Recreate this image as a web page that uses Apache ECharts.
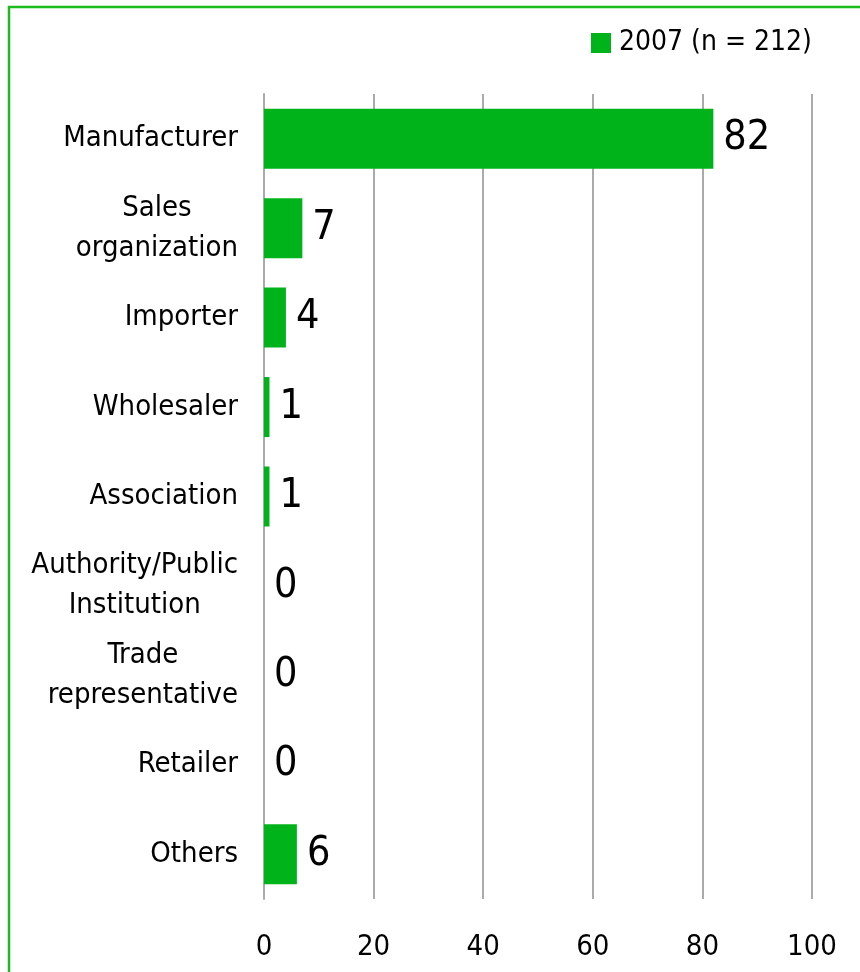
<!DOCTYPE html>
<html>
<head>
<meta charset="utf-8">
<style>
  html, body { margin: 0; padding: 0; background: #ffffff; }
  #chart { width: 860px; height: 972px; }
</style>
<script src="https://cdn.jsdelivr.net/npm/echarts@6/dist/echarts.min.js"></script>
</head>
<body>
<div id="chart"></div>
<script>
// Sender categories (top to bottom) and their shares in percent
const categories = [
  'Manufacturer',
  'Sales\norganization',
  'Importer',
  'Wholesaler',
  'Association',
  'Authority/Public\nInstitution',
  'Trade\nrepresentative',
  'Retailer',
  'Others'
];
const shares2007 = [82, 7, 4, 1, 1, 0, 0, 0, 6];
const seriesName = '2007 (n = 212)';
const axisTicks = [0, 20, 40, 60, 80, 100];

const GREEN = '#00b31a';
const GRID_GREY = '#ababab';
const COND = '"DejaVu Sans Condensed", "Liberation Sans Narrow", sans-serif';

const chart = echarts.init(document.getElementById('chart'), null, { renderer: 'canvas' });

chart.setOption({
  animation: false,
  backgroundColor: '#ffffff',
  graphic: [{
    type: 'rect',
    silent: true,
    z: -1,
    shape: { x: 9, y: 7, width: 900, height: 1000 },
    style: { fill: 'none', stroke: '#1dbb1d', lineWidth: 2.5 }
  }],
  legend: {
    left: 586,
    top: 24,
    itemWidth: 20,
    itemHeight: 20,
    icon: 'rect',
    selectedMode: false,
    data: [seriesName],
    textStyle: {
      fontFamily: COND,
      fontSize: 28,
      color: '#000000',
      padding: [0, 0, 0, 3]
    }
  },
  grid: { left: 264, right: 48, top: 94, bottom: 73, containLabel: false },
  xAxis: {
    type: 'value',
    min: axisTicks[0],
    max: axisTicks[axisTicks.length - 1],
    interval: axisTicks[1] - axisTicks[0],
    axisLine: { show: false },
    axisTick: { show: false },
    splitLine: { show: true, lineStyle: { color: GRID_GREY, width: 2 } },
    axisLabel: {
      margin: 34,
      fontFamily: COND,
      fontSize: 29,
      color: '#000000'
    }
  },
  yAxis: {
    type: 'category',
    inverse: true,
    data: categories,
    axisLine: { show: true, lineStyle: { color: GRID_GREY, width: 2 } },
    axisTick: { show: false },
    axisLabel: {
      margin: 26,
      align: 'right',
      color: '#000000',
      formatter: function (v) {
        return v.split('\n').map(function (s) { return '{c|' + s + '}'; }).join('\n');
      },
      rich: {
        c: {
          align: 'center',
          fontFamily: COND,
          fontSize: 29,
          lineHeight: 40,
          color: '#000000'
        }
      }
    }
  },
  series: [{
    name: seriesName,
    type: 'bar',
    data: shares2007,
    barWidth: 60,
    itemStyle: { color: GREEN },
    label: {
      show: true,
      position: 'right',
      distance: 10,
      fontFamily: COND,
      fontSize: 41,
      color: '#000000'
    }
  }]
});
</script>
</body>
</html>
